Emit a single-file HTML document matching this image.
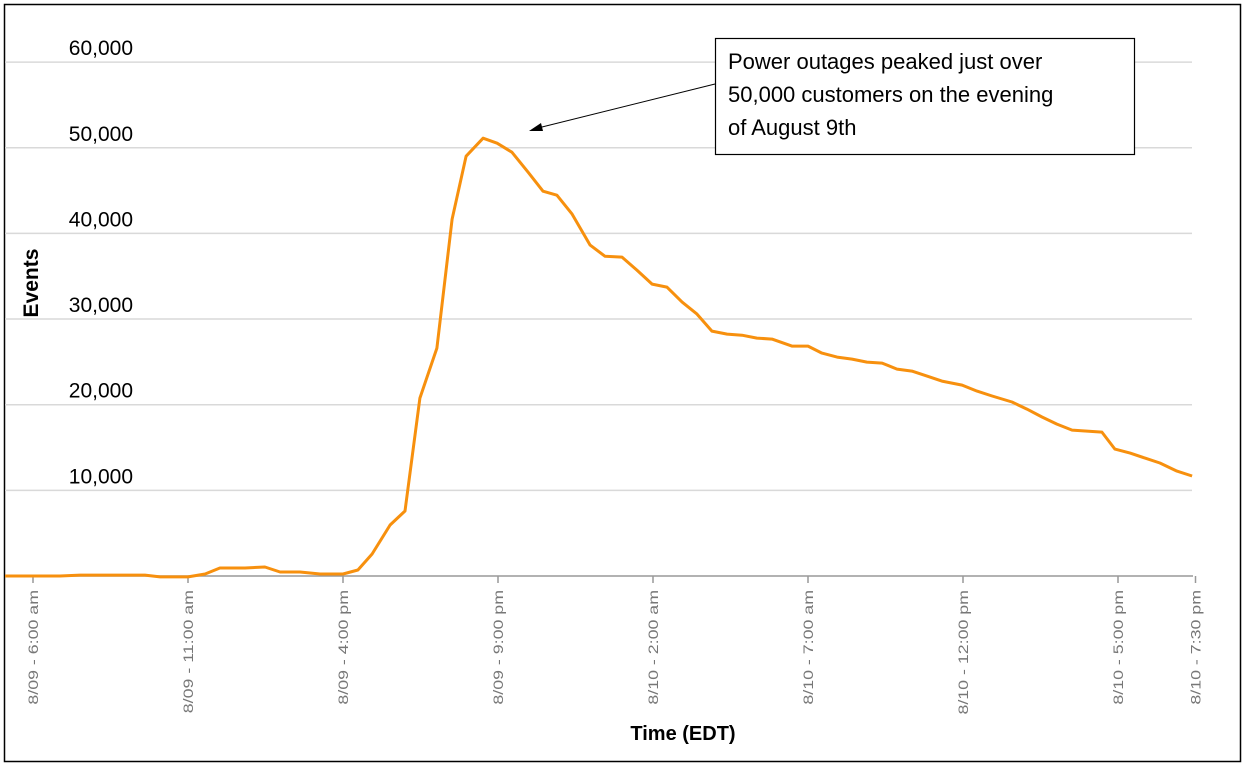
<!DOCTYPE html>
<html><head><meta charset="utf-8"><style>
body{margin:0;background:#fff;}
svg{display:block;font-family:"Liberation Sans",sans-serif;}
</style></head><body>
<svg width="1244" height="765">
<rect x="4.5" y="4.5" width="1236" height="757" fill="#fff" stroke="#000" stroke-width="1.5"/>
<g id="grid"></g>
<g id="yl"></g>
<g id="xt"></g>
<path id="line" fill="none" stroke="#f7900e" stroke-width="3" stroke-linejoin="round"/>
<text x="0" y="0" transform="translate(38,283) rotate(-90)" text-anchor="middle" font-size="21" font-weight="bold">Events</text>
<text x="683" y="740" text-anchor="middle" font-size="20" font-weight="bold">Time (EDT)</text>
<g>
<rect x="715.5" y="38.5" width="419" height="116" fill="#fff" stroke="#000" stroke-width="1.2"/>
<text x="728" y="69" font-size="22"><tspan x="728">Power outages peaked just over</tspan><tspan x="728" dy="33">50,000 customers on the evening</tspan><tspan x="728" dy="33">of August 9th</tspan></text>
<line x1="715" y1="84" x2="538" y2="128" stroke="#000" stroke-width="1"/>
<polygon points="529,131 541,123 543,131" fill="#000"/>
</g>
</svg>
<script>
const hours=[5.10,6.87,7.52,9.61,10.10,11.0,11.55,12.03,12.84,13.48,13.97,14.61,15.26,16.0,16.48,16.94,17.52,18.0,18.48,19.03,19.52,19.97,20.52,20.97,21.45,21.97,22.45,22.90,23.39,23.97,24.45,25.0,25.48,25.97,26.45,26.94,27.42,27.90,28.39,28.87,29.35,29.84,30.48,31.0,31.45,31.94,32.42,32.90,33.39,33.87,34.35,34.84,35.32,35.97,36.45,36.94,37.58,38.06,38.55,39.03,39.52,40.0,40.48,40.9,41.39,41.87,42.35,42.90,43.39];
const values=[0,0,100,100,-100,-100,230,930,930,1050,470,470,230,230,700,2570,5950,7590,20770,26610,41660,49010,51110,50530,49480,47150,44930,44460,42250,38630,37340,37230,35710,34080,33730,31980,30580,28590,28240,28120,27770,27660,26840,26840,26020,25560,25320,24970,24860,24160,23920,23340,22760,22290,21590,21010,20310,19490,18560,17740,17040,16920,16800,14820,14350,13770,13190,12250,11670];
const yTicks=[10000,20000,30000,40000,50000,60000];
const tickHours=[6,11,16,21,26,31,36,41,43.5];
const tickLabels=["8/09 - 6:00 am","8/09 - 11:00 am","8/09 - 4:00 pm","8/09 - 9:00 pm","8/10 - 2:00 am","8/10 - 7:00 am","8/10 - 12:00 pm","8/10 - 5:00 pm","8/10 - 7:30 pm"];
const X=h=>33+(h-6)*31;
const Y=v=>576-v*0.008565;
const NS="http://www.w3.org/2000/svg";
const grid=document.getElementById('grid'),yl=document.getElementById('yl'),xt=document.getElementById('xt');
yTicks.forEach(v=>{
 const l=document.createElementNS(NS,'line');
 
 
 l.setAttribute('x1',5);l.setAttribute('x2',1192);l.setAttribute('y1',Y(v));l.setAttribute('y2',Y(v));
 l.setAttribute('stroke','#d9d9d9');l.setAttribute('stroke-width','1.5');grid.appendChild(l);
 const t=document.createElementNS(NS,'text');
 
 
 t.setAttribute('x',133);t.setAttribute('y',Y(v)-7);t.setAttribute('text-anchor','end');t.setAttribute('font-size','21');
 t.textContent=v.toLocaleString('en-US');yl.appendChild(t);
});
const ax=document.createElementNS(NS,'line');


ax.setAttribute('x1',5);ax.setAttribute('x2',1193);ax.setAttribute('y1',576);ax.setAttribute('y2',576);
ax.setAttribute('stroke','#999');ax.setAttribute('stroke-width','1.5');grid.appendChild(ax);
tickHours.forEach((h,i)=>{
 const x=X(h);
 const l=document.createElementNS(NS,'line');
 
 
 l.setAttribute('x1',x);l.setAttribute('x2',x);l.setAttribute('y1',576);l.setAttribute('y2',583);
 l.setAttribute('stroke','#999');l.setAttribute('stroke-width','1.5');xt.appendChild(l);
 const t=document.createElementNS(NS,'text');
 
 
 t.setAttribute('transform','translate('+(x+5)+',590) rotate(-90) scale(1.27,1)');
 t.setAttribute('text-anchor','end');t.setAttribute('font-size','14');t.setAttribute('fill','#777');
 t.textContent=tickLabels[i];xt.appendChild(t);
});
document.getElementById('line').setAttribute('d',hours.map((h,i)=>(i?'L':'M')+X(h).toFixed(1)+','+Y(values[i]).toFixed(1)).join(''));
</script>
</body></html>
